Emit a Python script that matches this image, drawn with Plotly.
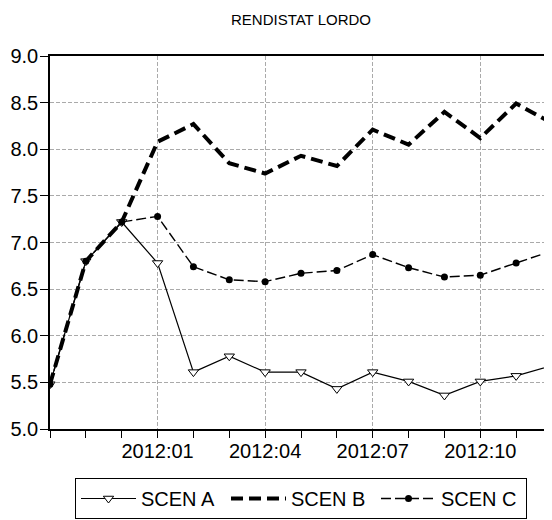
import plotly.graph_objects as go

months = ["2011:10", "2011:11", "2011:12", "2012:01", "2012:02", "2012:03", "2012:04",
          "2012:05", "2012:06", "2012:07", "2012:08", "2012:09", "2012:10", "2012:11", "2012:12"]
scen_a = [5.48, 6.80, 7.22, 6.78, 5.61, 5.78, 5.61, 5.61, 5.43, 5.61, 5.51, 5.36, 5.51, 5.57, 5.68]
scen_b = [5.48, 6.80, 7.22, 8.08, 8.27, 7.85, 7.74, 7.93, 7.82, 8.21, 8.05, 8.40, 8.12, 8.49, 8.28]
scen_c = [5.48, 6.80, 7.22, 7.28, 6.74, 6.60, 6.58, 6.67, 6.70, 6.87, 6.73, 6.63, 6.65, 6.78, 6.91]
tick_labels = ["2012:01", "2012:04", "2012:07", "2012:10"]
y_ticks = [5.0, 5.5, 6.0, 6.5, 7.0, 7.5, 8.0, 8.5, 9.0]

x = list(range(len(months)))
tickvals = [months.index(t) for t in tick_labels]

FONT = "Liberation Sans, Arial, Helvetica, sans-serif"
W, H = 544, 512
ML, MT, MB = 42, 48, 91

fig = go.Figure()
fig.add_trace(go.Scatter(
    x=x, y=scen_a, name="SCEN A", mode="lines+markers",
    line=dict(color="black", width=1.2),
    marker=dict(symbol="triangle-down", size=9, color="white",
                line=dict(color="black", width=1)),
))
fig.add_trace(go.Scatter(
    x=x, y=scen_b, name="SCEN B", mode="lines",
    line=dict(color="black", width=4, dash="12px,6px"),
))
fig.add_trace(go.Scatter(
    x=x, y=scen_c, name="SCEN C", mode="lines+markers",
    line=dict(color="black", width=1.4, dash="10px,4px"),
    marker=dict(symbol="circle", size=7, color="black"),
))

plot_h = H - MT - MB
fig.update_layout(
    width=W, height=H,
    margin=dict(l=ML, r=0, t=MT, b=MB, autoexpand=False),
    paper_bgcolor="white", plot_bgcolor="white",
    font=dict(family=FONT, color="black", size=20),
    title=dict(text="RENDISTAT LORDO", x=0.5, xref="paper", xanchor="center",
               y=1 - 12 / H, yref="container", yanchor="middle",
               font=dict(size=15, family=FONT, color="black")),
    showlegend=True,
    legend=dict(orientation="h", x=0.5, xanchor="center", xref="paper",
                y=-(470 - (MT + plot_h)) / plot_h, yanchor="top",
                bordercolor="black", borderwidth=1, bgcolor="white",
                font=dict(size=20, family=FONT, color="black"),
                entrywidth=80, entrywidthmode="pixels",
                itemwidth=55),
)

fig.update_xaxes(
    range=[0, len(months) - 1],
    tickmode="array", tickvals=tickvals, ticktext=tick_labels,
    ticks="outside", ticklen=7, tickwidth=1, tickcolor="black",
    ticklabelstandoff=-4,
    minor=dict(tickmode="linear", tick0=0, dtick=1, ticks="outside", ticklen=7,
               tickwidth=1, tickcolor="black", showgrid=False),
    showgrid=True, gridcolor="#aaaaaa", gridwidth=1, griddash="4px,2px",
    showline=True, linecolor="black", linewidth=1.5, mirror=True,
    zeroline=False,
    tickfont=dict(size=20, family=FONT, color="black"),
)
fig.update_yaxes(
    range=[5.0, 9.0],
    tickmode="array", tickvals=y_ticks, ticktext=[f"{v:.1f}" for v in y_ticks],
    ticks="outside", ticklen=8, tickwidth=1, tickcolor="black",
    ticklabelstandoff=-2,
    showgrid=True, gridcolor="#aaaaaa", gridwidth=1, griddash="4px,2px",
    showline=True, linecolor="black", linewidth=1.5, mirror=True,
    zeroline=False,
    tickfont=dict(size=20, family=FONT, color="black"),
)

fig.write_html("out.html")
